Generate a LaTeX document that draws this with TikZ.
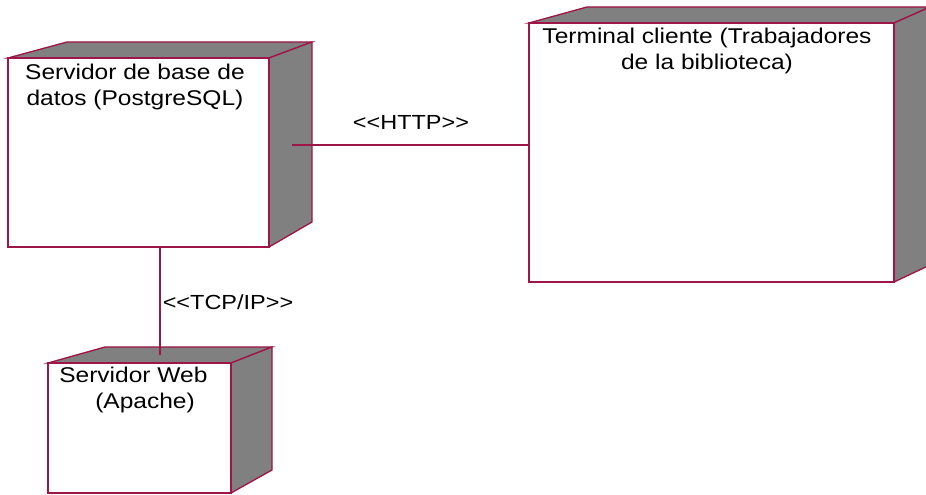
\documentclass[tikz,border=0pt]{standalone}
\usepackage{fontspec}
\setmainfont[FakeStretch=1.15]{Liberation Sans}
\definecolor{edge}{RGB}{158,22,72}
\definecolor{side}{RGB}{128,128,128}
\tikzset{
  face/.style={draw=edge, line width=1pt, fill=white, inner sep=0pt, outer sep=0pt},
  shade/.style={draw=edge, line width=1pt, fill=side, line join=miter},
  label/.style={font=\fontsize{16}{19.5}\selectfont, align=center, inner sep=0pt, anchor=north},
  link/.style={draw=edge, line width=0.8pt},
  stereo/.style={font=\fontsize{15.3}{18}\selectfont, inner sep=0pt},
}
\begin{document}
\begin{tikzpicture}[x=0.75pt, y=-0.75pt]
\useasboundingbox (0,0) rectangle (926,495);
\fill[white] (0,0) rectangle (926,495);

% Database server
\filldraw[shade] (8,58) -- (67,42) -- (312,42) -- (269,58) -- cycle;
\filldraw[shade] (269,58) -- (312,42) -- (312,222) -- (269,247) -- cycle;
\node[face, minimum width=261*0.75pt, minimum height=189*0.75pt] (db) at (138.5,152.5) {};
\node[label] (dbtext) at (135,64) {Servidor de base de\\datos (PostgreSQL)};

% Client terminal
\filldraw[shade] (529,23) -- (587,7) -- (930,7) -- (894,23) -- cycle;
\filldraw[shade] (894,23) -- (930,7) -- (930,265) -- (894,282) -- cycle;
\node[face, minimum width=365*0.75pt, minimum height=259*0.75pt] (term) at (711.5,152.5) {};
\node[label] (termtext) at (707,28) {Terminal cliente (Trabajadores\\de la biblioteca)};

% Web server
\filldraw[shade] (48,363) -- (105,347) -- (272,347) -- (231,363) -- cycle;
\filldraw[shade] (231,363) -- (272,347) -- (272,470) -- (231,493) -- cycle;
\node[face, minimum width=183*0.75pt, minimum height=130*0.75pt] (web) at (139.5,428) {};
\node[label, align=left, anchor=north west] (webtext) at (59,367)
  {Servidor Web\\\hspace*{27pt}(Apache)};

% Connection end points
\coordinate (httpend) at (292,145);
\coordinate (tcptop) at (160,247);
\coordinate (tcpend) at (160,355);

\draw[link] (httpend) -- (term.west |- httpend);
\draw[link] (tcptop) -- (tcpend);

\node[stereo] (http) at (411,122) {{<}{<}HTTP{>}{>}};
\node[stereo] (tcp) at (228,302) {{<}{<}TCP/IP{>}{>}};
\end{tikzpicture}
\end{document}
